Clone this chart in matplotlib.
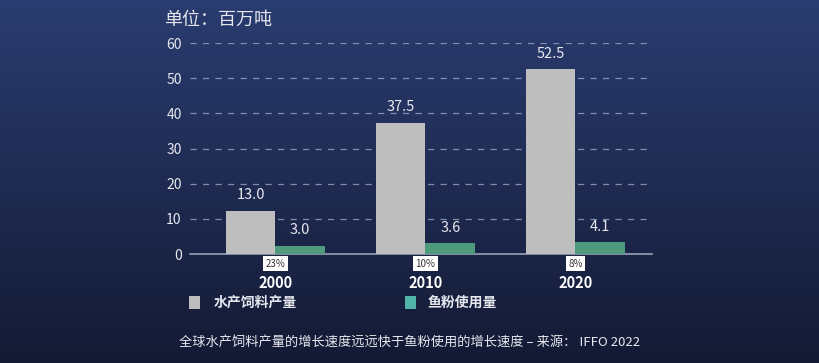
import numpy as np
import matplotlib.pyplot as plt
from matplotlib.patches import Rectangle

plt.rcParams["font.family"] = ["Noto Sans CJK SC", "DejaVu Sans"]

YEARS = ["2000", "2010", "2020"]
FEED_HEIGHTS = [12.3, 37.3, 52.5]
MEAL_HEIGHTS = [2.4, 3.1, 3.4]
FEED_LABELS = ["13.0", "37.5", "52.5"]
MEAL_LABELS = ["3.0", "3.6", "4.1"]
SHARE_LABELS = ["23%", "10%", "8%"]
Y_TICKS = [0, 10, 20, 30, 40, 50, 60]

FEED_COLOR = "#bebebe"
MEAL_COLOR = "#4e9a7c"
LEGEND_MEAL = "#4fb3a9"
TEXT = "#e6e8ee"

fig = plt.figure(figsize=(8.2, 3.63), dpi=100)

# background gradient
bg = fig.add_axes([0, 0, 1, 1], zorder=-10)
grad = np.linspace(0, 1, 256).reshape(-1, 1)
top = np.array([42, 60, 112]) / 255
bottom = np.array([20, 26, 52]) / 255
img = top + (bottom - top) * grad[:, :, None]
bg.imshow(img, aspect="auto", extent=[0, 1, 0, 1])
bg.axis("off")

ax = fig.add_axes([0.2317, 0.300, 0.5634, 0.5815])
ax.set_facecolor("none")

x = np.arange(len(YEARS))
w = 0.33
ax.bar(x - w / 2, FEED_HEIGHTS, width=w, color=FEED_COLOR, zorder=3)
ax.bar(x + w / 2, MEAL_HEIGHTS, width=w, color=MEAL_COLOR, zorder=3)

for xi, h, lab in zip(x, FEED_HEIGHTS, FEED_LABELS):
    ax.text(xi - w / 2, h + 2.4, lab, ha="center", va="bottom", color=TEXT, fontsize=10.5)
for xi, h, lab in zip(x, MEAL_HEIGHTS, MEAL_LABELS):
    ax.text(xi + w / 2, h + 2.4, lab, ha="center", va="bottom", color=TEXT, fontsize=10.5)

ax.set_xlim(-0.57, 2.51)
ax.set_ylim(0, 60)
ax.set_yticks(Y_TICKS)
ax.tick_params(axis="y", length=0, colors=TEXT, labelsize=10, pad=6)
ax.set_xticks([])
ax.grid(axis="y", color="#9aa4c4", linestyle=(0, (5, 5)), linewidth=0.9, alpha=0.8)
ax.set_axisbelow(True)
for s in ["top", "right", "left"]:
    ax.spines[s].set_visible(False)
ax.spines["bottom"].set_color("#9aa0b4")
ax.spines["bottom"].set_linewidth(1.2)

trans = ax.get_xaxis_transform()
for xi, yr, sh in zip(x, YEARS, SHARE_LABELS):
    ax.text(xi, -0.045, sh, transform=trans, ha="center", va="center", fontsize=7,
            color="#333333",
            bbox=dict(boxstyle="square,pad=0.25", facecolor="white", edgecolor="none"))
    ax.text(xi, -0.135, yr, transform=trans, ha="center", va="center", fontsize=10.5,
            fontweight="bold", color="white")

# legend
fig.patches.append(Rectangle((0.2305, 0.149), 0.0135, 0.035, transform=fig.transFigure,
                             facecolor=FEED_COLOR, edgecolor="none"))
fig.text(0.261, 0.167, "水产饲料产量", color=TEXT, fontsize=10, va="center", fontweight="bold")
fig.patches.append(Rectangle((0.4935, 0.149), 0.0135, 0.035, transform=fig.transFigure,
                             facecolor=LEGEND_MEAL, edgecolor="none"))
fig.text(0.522, 0.167, "鱼粉使用量", color=TEXT, fontsize=10, va="center", fontweight="bold")

fig.text(0.1995, 0.945, "单位：百万吨", color=TEXT, fontsize=13, va="center")
fig.text(0.5, 0.058, "全球水产饲料产量的增长速度远远快于鱼粉使用的增长速度 – 来源： IFFO 2022",
         color=TEXT, fontsize=9.5, ha="center", va="center")

fig.savefig("out.png", dpi=100)
